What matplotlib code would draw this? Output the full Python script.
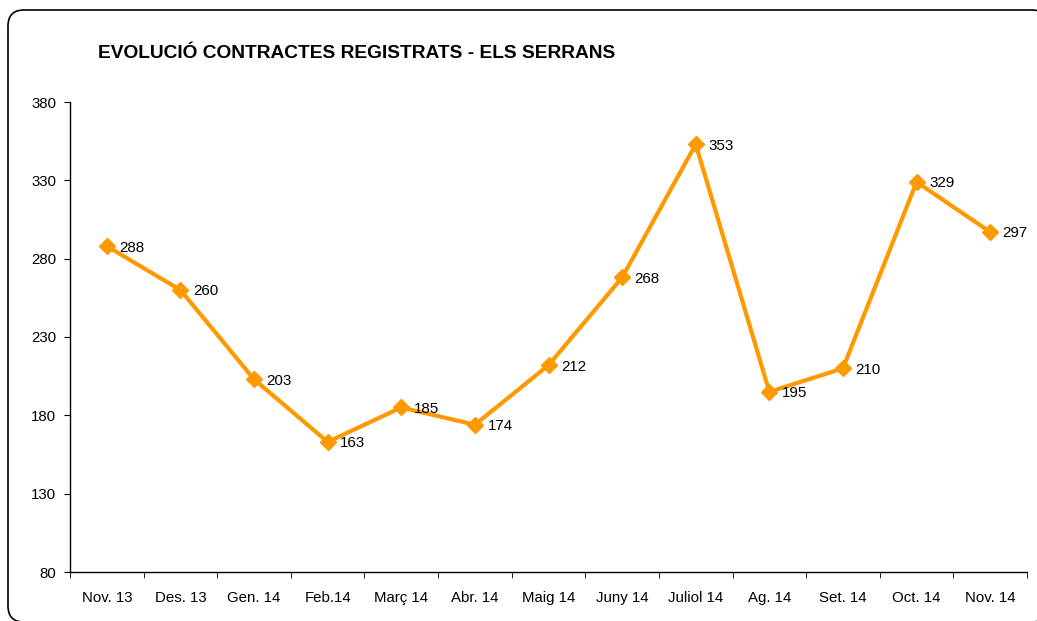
import matplotlib.pyplot as plt
from matplotlib.patches import FancyBboxPatch

plt.rcParams['font.family'] = ['Liberation Sans', 'DejaVu Sans']

months = ['Nov. 13', 'Des. 13', 'Gen. 14', 'Feb.14', 'Març 14', 'Abr. 14', 'Maig 14',
          'Juny 14', 'Juliol 14', 'Ag. 14', 'Set. 14', 'Oct. 14', 'Nov. 14']
contractes = [288, 260, 203, 163, 185, 174, 212, 268, 353, 195, 210, 329, 297]
y_ticks = [80, 130, 180, 230, 280, 330, 380]

W, H = 1037, 621
fig = plt.figure(figsize=(W / 100, H / 100), dpi=100)

# marc arrodonit de fons
bg = fig.add_axes([0, 0, 1, 1])
bg.set_xlim(0, W)
bg.set_ylim(H, 0)
bg.axis('off')
bg.add_patch(FancyBboxPatch((8, 10), 1040, 612, boxstyle='round,pad=0,rounding_size=16',
                            facecolor='white', edgecolor='black', linewidth=1.2))

ax = fig.add_axes([70 / W, 1 - 572 / H, (1027 - 70) / W, (572 - 102) / H])
ax.patch.set_alpha(0)
x = list(range(len(months)))
ax.plot(x, contractes, color='#FF9900', linewidth=3, marker='D', markersize=8.5,
        markeredgecolor='#FF9900', clip_on=False)

for xi, v in zip(x, contractes):
    ax.annotate(str(v), (xi, v), xytext=(9, -1), textcoords='offset points',
                ha='left', va='center', fontsize=10.9, color='black')

ax.set_xlim(-0.5, len(months) - 0.5)
ax.set_ylim(80, 380)
ax.set_yticks(y_ticks)
ax.set_xticks(x)
ax.set_xticklabels(months)
ax.set_xticks([i - 0.5 for i in range(len(months) + 1)], minor=True)
ax.tick_params(axis='x', which='major', length=0, pad=14, labelsize=10.8)
ax.tick_params(axis='x', which='minor', length=4, direction='out')
ax.tick_params(axis='y', length=4, direction='out', pad=6, labelsize=10.8)

for s in ['top', 'right']:
    ax.spines[s].set_visible(False)
ax.spines['left'].set_linewidth(1)
ax.spines['bottom'].set_linewidth(1)

fig.text(98 / W, 1 - 53 / H, 'EVOLUCIÓ CONTRACTES REGISTRATS - ELS SERRANS',
         fontsize=13.8, fontweight='bold', ha='left', va='center')

fig.savefig('out.png', dpi=100)
